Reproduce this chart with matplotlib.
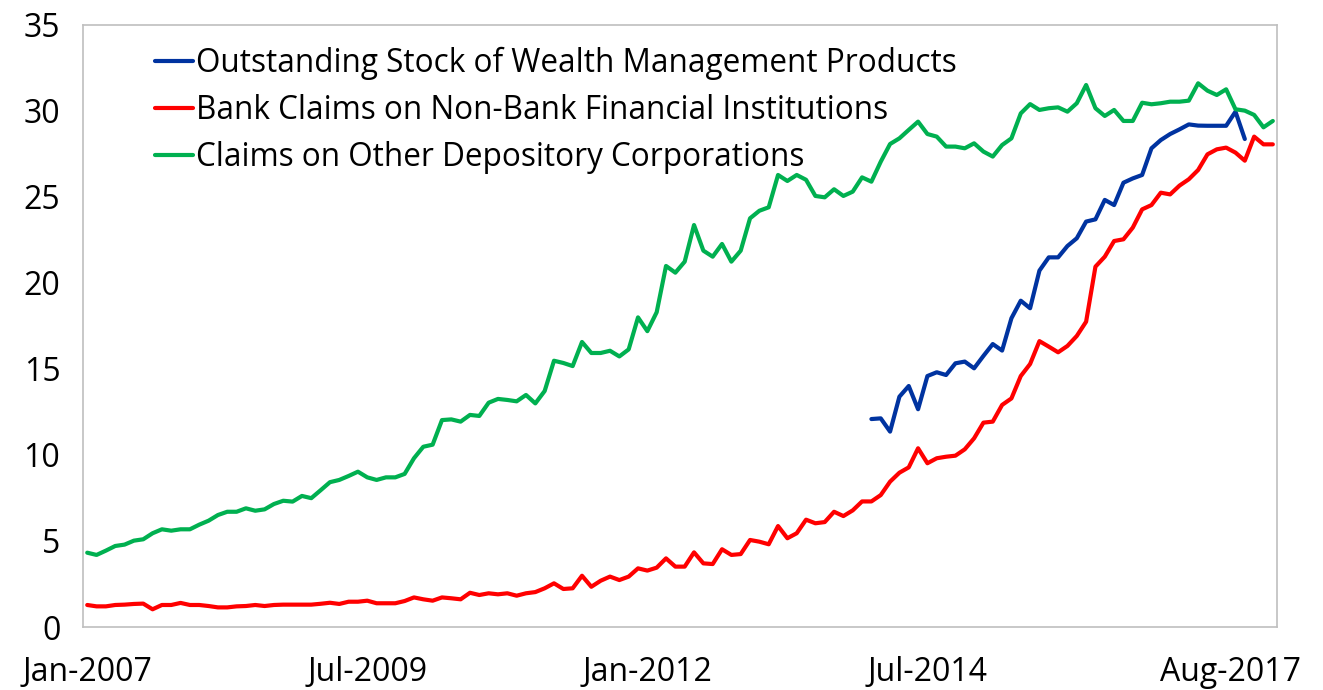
import matplotlib
matplotlib.use("Agg")
import matplotlib.pyplot as plt
import matplotlib.transforms as mtransforms
import numpy as np

# Monthly data Jan-2007 .. Aug-2017 (128 months)
start_year, start_month = 2007, 1
n_months = 128

claims_other_depository = [
    4.32, 4.19, 4.44, 4.71, 4.79, 5.02, 5.10, 5.45, 5.68, 5.60, 5.68, 5.68,
    5.95, 6.18, 6.51, 6.70, 6.70, 6.90, 6.76, 6.84, 7.15, 7.34, 7.29, 7.62,
    7.49, 7.95, 8.42, 8.55, 8.78, 9.03, 8.70, 8.55, 8.70, 8.70, 8.90, 9.81,
    10.48, 10.60, 12.03, 12.07, 11.94, 12.33, 12.27, 13.04, 13.26, 13.20, 13.12, 13.49,
    13.00, 13.72, 15.48, 15.35, 15.17, 16.57, 15.93, 15.93, 16.06, 15.73, 16.14, 18.00,
    17.20, 18.30, 20.99, 20.60, 21.24, 23.37, 21.88, 21.53, 22.27, 21.24, 21.88, 23.76,
    24.20, 24.40, 26.28, 25.93, 26.28, 26.00, 25.06, 24.98, 25.45, 25.06, 25.31, 26.14,
    25.89, 27.05, 28.08, 28.41, 28.90, 29.38, 28.66, 28.51, 27.93, 27.93, 27.83, 28.12,
    27.64, 27.35, 28.02, 28.41, 29.86, 30.40, 30.06, 30.16, 30.21, 29.96, 30.45, 31.51,
    30.16, 29.71, 30.06, 29.42, 29.42, 30.48, 30.39, 30.45, 30.54, 30.54, 30.60, 31.61,
    31.18, 30.93, 31.26, 30.10, 30.02, 29.77, 29.05, 29.42,
]

bank_claims_nbfi = [
    1.28, 1.20, 1.20, 1.28, 1.30, 1.34, 1.36, 1.03, 1.28, 1.28, 1.40, 1.28,
    1.28, 1.22, 1.14, 1.14, 1.20, 1.22, 1.28, 1.22, 1.28, 1.30, 1.30, 1.30,
    1.30, 1.35, 1.41, 1.34, 1.47, 1.47, 1.53, 1.38, 1.38, 1.38, 1.51, 1.72,
    1.61, 1.53, 1.72, 1.67, 1.61, 1.99, 1.86, 1.96, 1.90, 1.96, 1.82, 1.96,
    2.03, 2.25, 2.54, 2.21, 2.25, 2.98, 2.34, 2.69, 2.93, 2.73, 2.93, 3.41,
    3.28, 3.45, 3.99, 3.51, 3.51, 4.34, 3.70, 3.66, 4.52, 4.19, 4.24, 5.06,
    4.96, 4.81, 5.87, 5.16, 5.45, 6.24, 6.03, 6.10, 6.70, 6.45, 6.78, 7.30,
    7.30, 7.67, 8.45, 8.97, 9.28, 10.39, 9.52, 9.81, 9.90, 9.96, 10.33, 10.97,
    11.88, 11.94, 12.91, 13.29, 14.59, 15.29, 16.62, 16.30, 15.97, 16.34, 16.92, 17.75,
    20.95, 21.53, 22.44, 22.54, 23.22, 24.28, 24.53, 25.25, 25.15, 25.66, 26.03, 26.57,
    27.48, 27.77, 27.87, 27.58, 27.11, 28.51, 28.06, 28.06,
]

# Wealth management products: Jan-2014 .. May-2017
wmp_start_index = 84
wealth_mgmt_products = [
    12.09, 12.13, 11.36, 13.39, 14.01, 12.66, 14.59, 14.81, 14.65, 15.33, 15.43, 15.04,
    15.76, 16.45, 16.07, 17.95, 18.97, 18.53, 20.72, 21.49, 21.49, 22.15, 22.60, 23.57,
    23.70, 24.83, 24.53, 25.83, 26.08, 26.28, 27.83, 28.31, 28.66, 28.93, 29.22, 29.15,
    29.14, 29.14, 29.14, 29.96, 28.37,
]

tick_months = [0, 30, 60, 90, 127]
tick_labels = ["Jan-2007", "Jul-2009", "Jan-2012", "Jul-2014", "Aug-2017"]
y_ticks = [0, 5, 10, 15, 20, 25, 30, 35]

series_names = [
    "Outstanding Stock of Wealth Management Products",
    "Bank Claims on Non-Bank Financial Institutions",
    "Claims on Other Depository Corporations",
]
colors = ["#0033A0", "#FF0000", "#00B050"]

plt.rcParams["font.family"] = ["Open Sans", "DejaVu Sans"]

fig = plt.figure(figsize=(13.23, 6.90), dpi=100)
ax = fig.add_axes([0.0624, 0.0913, 0.9032, 0.8725])

x_all = np.arange(n_months)
x_wmp = np.arange(wmp_start_index, wmp_start_index + len(wealth_mgmt_products))

lw = 3.0
ax.plot(x_wmp, wealth_mgmt_products, color=colors[0], lw=lw, label=series_names[0],
        solid_joinstyle="round", solid_capstyle="round")
ax.plot(x_all, bank_claims_nbfi, color=colors[1], lw=lw, label=series_names[1],
        solid_joinstyle="round", solid_capstyle="round")
ax.plot(x_all, claims_other_depository, color=colors[2], lw=lw, label=series_names[2],
        solid_joinstyle="round", solid_capstyle="round")

ax.set_xlim(-0.5, n_months - 0.5)
ax.set_ylim(0, 35)
ax.set_yticks(y_ticks)
ax.set_yticklabels([str(v) for v in y_ticks])
ax.set_xticks(tick_months)
ax.set_xticklabels(tick_labels)

ax.tick_params(axis="both", length=0, labelsize=23, colors="black")
ax.tick_params(axis="y", pad=16)
ax.tick_params(axis="x", pad=21)

for sp in ax.spines.values():
    sp.set_color("#BFBFBF")
    sp.set_linewidth(1.2)

# shift the last label left so it stays in the figure
last = ax.get_xticklabels()[-1]
last.set_transform(last.get_transform() + mtransforms.ScaledTranslation(-0.42, 0, fig.dpi_scale_trans))

leg = ax.legend(loc="upper left", bbox_to_anchor=(0.05, 0.985), frameon=False,
                fontsize=22.7, handlelength=1.2, handletextpad=0.1, labelspacing=0.44,
                borderaxespad=0.0)

fig.savefig("out.png", dpi=100)
